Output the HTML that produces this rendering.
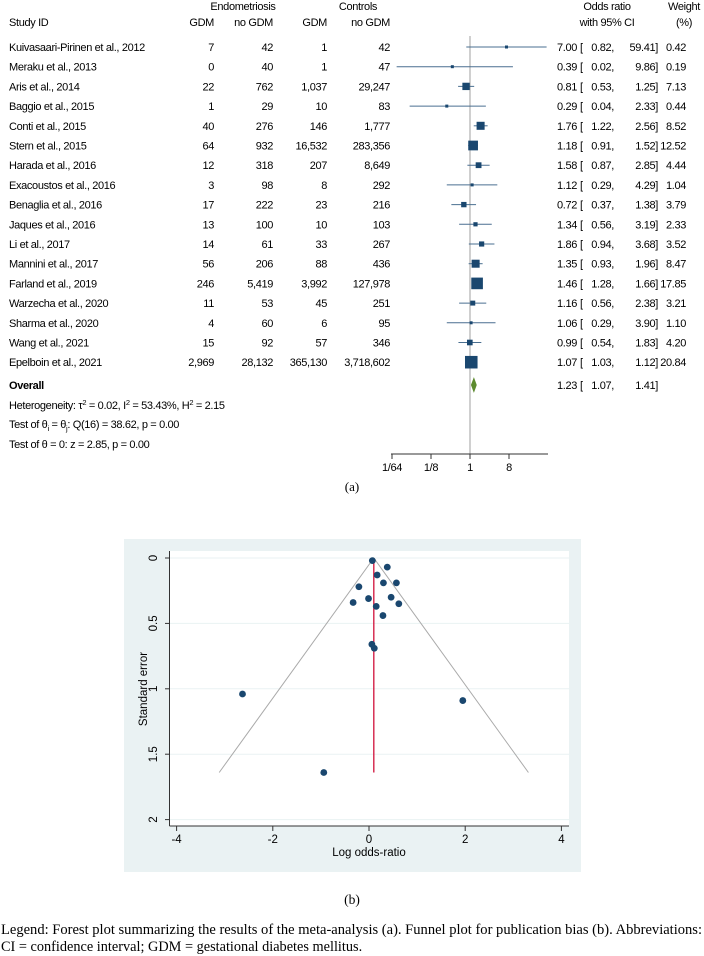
<!DOCTYPE html>
<html><head><meta charset="utf-8"><style>
html,body{margin:0;padding:0;background:#fff;width:704px;height:956px;overflow:hidden}
svg text{font-family:"Liberation Sans",Arial,sans-serif}
#forest text{letter-spacing:-0.35px}
</style></head><body>
<svg id="root" width="704" height="956" viewBox="0 0 704 956" xmlns="http://www.w3.org/2000/svg">
<g id="forest"></g>
<text x="352" y="491" text-anchor="middle" font-size="13" style="font-family:'Liberation Serif',serif">(a)</text>
<g id="funnel"></g>
<text x="352" y="904" text-anchor="middle" font-size="13.5" style="font-family:'Liberation Serif',serif">(b)</text>
<text x="1" y="934" font-size="14.3" textLength="701" lengthAdjust="spacingAndGlyphs" style="font-family:'Liberation Serif',serif">Legend: Forest plot summarizing the results of the meta-analysis (a). Funnel plot for publication bias (b). Abbreviations:</text>
<text x="1" y="951" font-size="14.3" style="font-family:'Liberation Serif',serif">CI = confidence interval; GDM = gestational diabetes mellitus.</text>
</svg>
<script>
const studies=["Kuivasaari-Pirinen et al., 2012","Meraku et al., 2013","Aris et al., 2014","Baggio et al., 2015","Conti et al., 2015","Stern et al., 2015","Harada et al., 2016","Exacoustos et al., 2016","Benaglia et al., 2016","Jaques et al., 2016","Li et al., 2017","Mannini et al., 2017","Farland et al., 2019","Warzecha et al., 2020","Sharma et al., 2020","Wang et al., 2021","Epelboin et al., 2021"];
const endoGDM=["7","0","22","1","40","64","12","3","17","13","14","56","246","11","4","15","2,969"];
const endoNo=["42","40","762","29","276","932","318","98","222","100","61","206","5,419","53","60","92","28,132"];
const ctrlGDM=["1","1","1,037","10","146","16,532","207","8","23","10","33","88","3,992","45","6","57","365,130"];
const ctrlNo=["42","47","29,247","83","1,777","283,356","8,649","292","216","103","267","436","127,978","251","95","346","3,718,602"];
const orVals=[7.00,0.39,0.81,0.29,1.76,1.18,1.58,1.12,0.72,1.34,1.86,1.35,1.46,1.16,1.06,0.99,1.07];
const ciLo=[0.82,0.02,0.53,0.04,1.22,0.91,0.87,0.29,0.37,0.56,0.94,0.93,1.28,0.56,0.29,0.54,1.03];
const ciHi=[59.41,9.86,1.25,2.33,2.56,1.52,2.85,4.29,1.38,3.19,3.68,1.96,1.66,2.38,3.90,1.83,1.12];
const weights=[0.42,0.19,7.13,0.44,8.52,12.52,4.44,1.04,3.79,2.33,3.52,8.47,17.85,3.21,1.10,4.20,20.84];
const overall=[1.23,1.07,1.41];
const forestTicks=[1/64,1/8,1,8];
const forestTickLabels=["1/64","1/8","1","8"];
// funnel data
const funnelLogOR=[1.95,-0.94,-0.21,-2.63,0.57,0.17,0.46,0.11,-0.33,0.29,0.62,0.30,0.38,0.15,0.06,-0.01,0.07];
const funnelSE=[1.09,1.64,0.22,1.04,0.19,0.13,0.30,0.69,0.34,0.44,0.35,0.19,0.07,0.37,0.66,0.31,0.02];
const funnelCenter=[0.10];
const funnelMaxSE=[1.64];
const funnelXTicks=[-4,-2,0,2,4];
const funnelYTicks=[0,0.5,1,1.5,2];

const NS="http://www.w3.org/2000/svg";
function mk(parent,tag,attrs,text){const e=document.createElementNS(NS,tag);for(const k in attrs)e.setAttribute(k,attrs[k]);if(text!==undefined)e.textContent=text;parent.appendChild(e);return e;}
function fmt(v){return v.toFixed(2);}

// ---------- forest ----------
const F=document.getElementById('forest');
const xF=v=>470+Math.log2(v)*13;
const rowY=i=>47+i*19.7;
const fs=11;
let t;
t=mk(F,'text',{x:243,y:10,'text-anchor':'middle','font-size':fs},'Endometriosis');


t=mk(F,'text',{x:358,y:10,'text-anchor':'middle','font-size':fs},'Controls');


t=mk(F,'text',{x:607,y:10,'text-anchor':'middle','font-size':fs},'Odds ratio');


t=mk(F,'text',{x:684,y:10,'text-anchor':'middle','font-size':fs},'Weight');


const h2=[["Study ID",9,'start'],["GDM",214,'end'],["no GDM",273,'end'],["GDM",327,'end'],["no GDM",390,'end'],["with 95% CI",607,'middle'],["(%)",684,'middle']];
h2.forEach(h=>{const e=mk(F,'text',{x:h[1],y:26,'text-anchor':h[2],'font-size':fs},h[0]);

});
t=mk(F,'line',{x1:xF(1),x2:xF(1),y1:36,y2:454,stroke:'#888','stroke-width':0.8});


studies.forEach((s,i)=>{
  const y=rowY(i);
  const g=mk(F,'g',{});
  
  
  mk(g,'text',{x:9,y:y+4,'font-size':fs},s);
  mk(g,'text',{x:214,y:y+4,'font-size':fs,'text-anchor':'end'},endoGDM[i]);
  mk(g,'text',{x:273,y:y+4,'font-size':fs,'text-anchor':'end'},endoNo[i]);
  mk(g,'text',{x:327,y:y+4,'font-size':fs,'text-anchor':'end'},ctrlGDM[i]);
  mk(g,'text',{x:390,y:y+4,'font-size':fs,'text-anchor':'end'},ctrlNo[i]);
  const ln=mk(g,'line',{x1:xF(ciLo[i]),x2:xF(ciHi[i]),y1:y,y2:y,stroke:'#4a6f90','stroke-width':1});
  
  
  const sz=Math.max(3,2.75*Math.sqrt(weights[i]));
  const b=mk(g,'rect',{x:xF(orVals[i])-sz/2,y:y-sz/2,width:sz,height:sz,fill:'#1a476f'});
  
  
  mk(g,'text',{x:577,y:y+4,'font-size':fs,'text-anchor':'end'},fmt(orVals[i]));
  mk(g,'text',{x:580,y:y+4,'font-size':fs},'[');
  mk(g,'text',{x:614,y:y+4,'font-size':fs,'text-anchor':'end'},fmt(ciLo[i])+',');
  mk(g,'text',{x:658,y:y+4,'font-size':fs,'text-anchor':'end'},fmt(ciHi[i])+']');
  mk(g,'text',{x:686,y:y+4,'font-size':fs,'text-anchor':'end'},fmt(weights[i]));
});
{
  const y=385;
  t=mk(F,'text',{x:9,y:y+4,'font-size':fs,'font-weight':'bold'},'Overall');
  
  
  const xc=xF(overall[0]),xl=xF(overall[1]),xh=xF(overall[2]);
  t=mk(F,'polygon',{points:`${xl},${y} ${xc},${y-7} ${xh},${y} ${xc},${y+7}`,fill:'#5c8a2e',stroke:'#5c8a2e','stroke-width':0.6});
  
  
  mk(F,'text',{x:577,y:y+4,'font-size':fs,'text-anchor':'end'},fmt(overall[0]));
  mk(F,'text',{x:580,y:y+4,'font-size':fs},'[');
  mk(F,'text',{x:614,y:y+4,'font-size':fs,'text-anchor':'end'},fmt(overall[1])+',');
  mk(F,'text',{x:658,y:y+4,'font-size':fs,'text-anchor':'end'},fmt(overall[2])+']');
}
t=mk(F,'text',{x:9,y:409,'font-size':fs});
t.innerHTML='Heterogeneity: τ<tspan font-size="7.5" dy="-4">2</tspan><tspan dy="4"> = 0.02, I</tspan><tspan font-size="7.5" dy="-4">2</tspan><tspan dy="4"> = 53.43%, H</tspan><tspan font-size="7.5" dy="-4">2</tspan><tspan dy="4"> = 2.15</tspan>';


t=mk(F,'text',{x:9,y:428,'font-size':fs});
t.innerHTML='Test of θ<tspan font-size="7.5" dy="3">i</tspan><tspan dy="-3"> = θ</tspan><tspan font-size="7.5" dy="3">j</tspan><tspan dy="-3">: Q(16) = 38.62, p = 0.00</tspan>';


t=mk(F,'text',{x:9,y:448,'font-size':fs},'Test of θ = 0: z = 2.85, p = 0.00');


t=mk(F,'line',{x1:391,x2:548,y1:454,y2:454,stroke:'#333','stroke-width':1});


forestTicks.forEach((v,i)=>{
  const x=xF(v);
  mk(F,'line',{x1:x,x2:x,y1:454,y2:459,stroke:'#333','stroke-width':1});
  const e=mk(F,'text',{x:x,y:471,'font-size':fs,'text-anchor':'middle'},forestTickLabels[i]);
  
  
});

// ---------- funnel ----------
const G=document.getElementById('funnel');
const xP=v=>369+v*48.1;
const yP=v=>558+v*130.8;
t=mk(G,'rect',{x:124,y:539,width:457,height:333,fill:'#eaf2f3'});


t=mk(G,'rect',{x:170,y:551,width:399,height:275,fill:'#fff'});


funnelYTicks.forEach(v=>{
  const y=yP(v);
  const gl=mk(G,'line',{x1:170,x2:569,y1:y,y2:y,stroke:'#eaf2f3','stroke-width':1});
  
  
  mk(G,'line',{x1:165,x2:170,y1:y,y2:y,stroke:'#333'});
  const e=mk(G,'text',{x:157,y:y,'font-size':11.5,'text-anchor':'middle',transform:`rotate(-90 157 ${y})`},String(v));
  
  
});
t=mk(G,'line',{x1:169.5,x2:169.5,y1:551,y2:826,stroke:'#333'});


t=mk(G,'line',{x1:169.5,x2:569,y1:826,y2:826,stroke:'#333'});


funnelXTicks.forEach(v=>{
  const x=xP(v);
  mk(G,'line',{x1:x,x2:x,y1:826,y2:831,stroke:'#333'});
  const e=mk(G,'text',{x:x,y:843,'font-size':11.5,'text-anchor':'middle'},String(v));
  
  
});
t=mk(G,'text',{x:369,y:856,'font-size':11.5,'text-anchor':'middle'},'Log odds-ratio');


t=mk(G,'text',{x:147,y:689,'font-size':11.5,'text-anchor':'middle',transform:'rotate(-90 147 689)'},'Standard error');


{
  const c=funnelCenter[0],m=funnelMaxSE[0];
  t=mk(G,'polyline',{points:`${xP(c-1.96*m)},${yP(m)} ${xP(c)},${yP(0)} ${xP(c+1.96*m)},${yP(m)}`,fill:'none',stroke:'#aaa','stroke-width':1});
  
  
  t=mk(G,'line',{x1:xP(c),x2:xP(c),y1:yP(0),y2:yP(m),stroke:'#d0103a','stroke-width':1.3});
  
  
}
funnelLogOR.forEach((v,i)=>{
  const d=mk(G,'circle',{cx:xP(v),cy:yP(funnelSE[i]),r:3.4,fill:'#1a476f'});
  
  
});
</script>
</body></html>
